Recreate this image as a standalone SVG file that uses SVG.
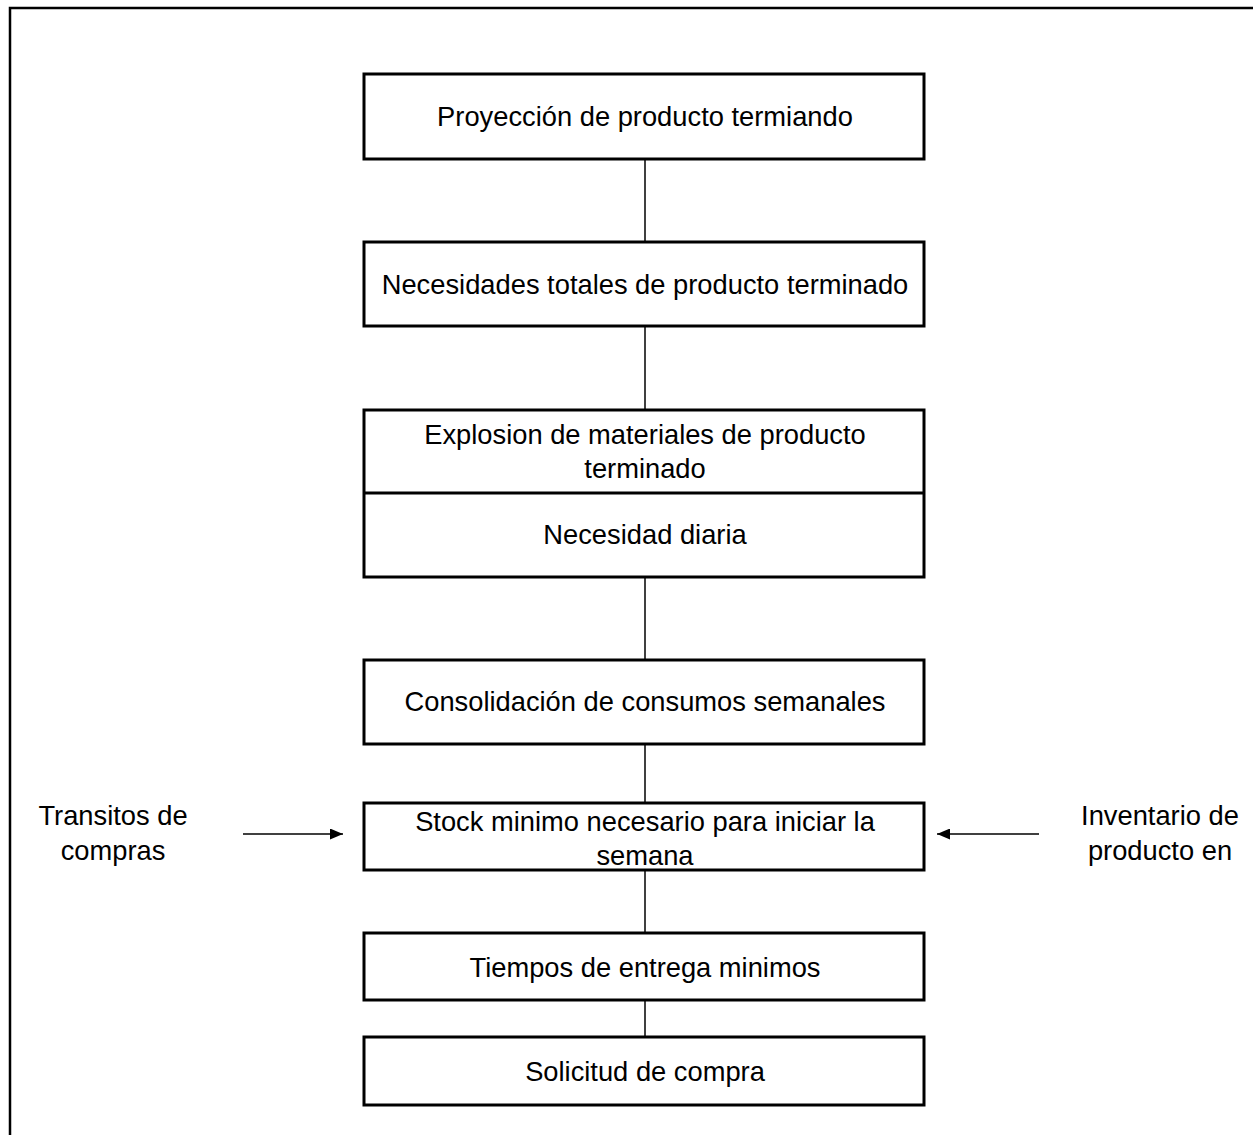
<svg xmlns="http://www.w3.org/2000/svg" width="1253" height="1135" viewBox="0 0 1253 1135">
<style>
.box{fill:#fff;stroke:#000;stroke-width:3}
.t{font-family:"Liberation Sans",Arial,sans-serif;font-size:27.3px;fill:#000;text-anchor:middle}
.c{stroke:#000;stroke-width:1.5;fill:none}
.frame{stroke:#000;stroke-width:2.5;fill:none}
</style>
<defs>
<marker id="ah" markerWidth="13" markerHeight="11" refX="13" refY="5.5" orient="auto" markerUnits="userSpaceOnUse">
<path d="M0,0 L13,5.5 L0,11 Z" fill="#000"/>
</marker>
</defs>
<rect width="1253" height="1135" fill="#fff"/>
<path class="frame" d="M10,1136 L10,8 L1254,8"/>
<g id="connectors">
<line class="c" x1="645" y1="159" x2="645" y2="242"/>
<line class="c" x1="645" y1="326" x2="645" y2="410"/>
<line class="c" x1="645" y1="577" x2="645" y2="660"/>
<line class="c" x1="645" y1="744" x2="645" y2="803"/>
<line class="c" x1="645" y1="870" x2="645" y2="933"/>
<line class="c" x1="645" y1="1000" x2="645" y2="1037"/>
<line class="c" x1="243" y1="834" x2="343" y2="834" marker-end="url(#ah)"/>
<line class="c" x1="1039" y1="834" x2="937" y2="834" marker-end="url(#ah)"/>
</g>
<g id="n1"><rect class="box" x="364" y="74" width="560" height="85"/><text class="t" x="645" y="126">Proyección de producto termiando</text></g>
<g id="n2"><rect class="box" x="364" y="242" width="560" height="84"/><text class="t" x="645" y="294">Necesidades totales de producto terminado</text></g>
<g id="n3"><rect class="box" x="364" y="410" width="560" height="167"/><line class="box" x1="364" y1="493" x2="924" y2="493"/><text class="t" x="645" y="444">Explosion de materiales de producto</text><text class="t" x="645" y="478">terminado</text><text class="t" x="645" y="544">Necesidad diaria</text></g>
<g id="n4"><rect class="box" x="364" y="660" width="560" height="84"/><text class="t" x="645" y="711">Consolidación de consumos semanales</text></g>
<g id="n5"><rect class="box" x="364" y="803" width="560" height="67"/><text class="t" x="645" y="831">Stock minimo necesario para iniciar la</text><text class="t" x="645" y="865">semana</text></g>
<g id="n6"><rect class="box" x="364" y="933" width="560" height="67"/><text class="t" x="645" y="977">Tiempos de entrega minimos</text></g>
<g id="n7"><rect class="box" x="364" y="1037" width="560" height="68"/><text class="t" x="645" y="1081">Solicitud de compra</text></g>
<g id="n8"><text class="t" x="113" y="825">Transitos de</text><text class="t" x="113" y="860">compras</text></g>
<g id="n9"><text class="t" x="1160" y="825">Inventario de</text><text class="t" x="1160" y="860">producto en</text></g>
</svg>
